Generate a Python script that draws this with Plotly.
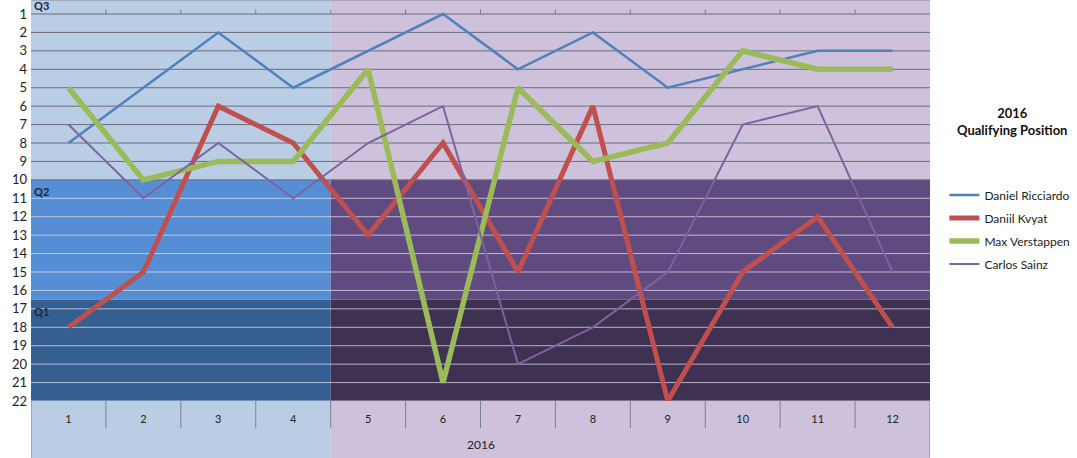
import plotly.graph_objects as go

races = [1, 2, 3, 4, 5, 6, 7, 8, 9, 10, 11, 12]
year_label = "2016"
ricciardo = [8, 5, 2, 5, 3, 1, 4, 2, 5, 4, 3, 3]
kvyat = [18, 15, 6, 8, 13, 8, 15, 6, 22, 15, 12, 18]
verstappen = [5, 10, 9, 9, 4, 21, 5, 9, 8, 3, 4, 4]
sainz = [7, 11, 8, 11, 8, 6, 20, 18, 15, 7, 6, 15]
positions = list(range(1, 23))
session_labels = ["Q3", "Q2", "Q1"]

FONT = "Lato"
Y_TOP = 0.24
Y_BOT = 22
Q2_START = 10
Q1_START = 16.5
SPLIT = 4.5  # boundary between blue (races 1-4) and purple (5-12) sections
X0, X1 = 0.5, 12.5
AXIS_BAND = -0.142  # paper y of bottom of category area

fig = go.Figure()

series = [
    ("Daniel Ricciardo", ricciardo, "#4f81bd", 2.5),
    ("Daniil Kvyat", kvyat, "#c0504d", 5),
    ("Max Verstappen", verstappen, "#9bbb59", 5.5),
    ("Carlos Sainz", sainz, "#7d63a0", 2),
]
for i, (name, vals, col, w) in enumerate(series):
    fig.add_trace(go.Scatter(
        x=races, y=vals, mode="lines", name=name,
        line=dict(color=col, width=w), legendgroup=str(i),
    ))

shapes = []
bands = [
    (Y_TOP, Q2_START, "#b9cde5", "#cdc1db"),
    (Q2_START, Q1_START, "#558ed5", "#604b80"),
    (Q1_START, Y_BOT, "#365f91", "#3e3152"),
]
for y0, y1, cl, cr in bands:
    shapes.append(dict(type="rect", xref="x", yref="y", x0=X0, x1=SPLIT, y0=y0, y1=y1,
                       fillcolor=cl, line_width=0, layer="below"))
    shapes.append(dict(type="rect", xref="x", yref="y", x0=SPLIT, x1=X1, y0=y0, y1=y1,
                       fillcolor=cr, line_width=0, layer="below"))
shapes.append(dict(type="rect", xref="x", yref="paper", x0=X0, x1=SPLIT, y0=AXIS_BAND, y1=0,
                   fillcolor="#b9cde5", line_width=0, layer="below"))
shapes.append(dict(type="rect", xref="x", yref="paper", x0=SPLIT, x1=X1, y0=AXIS_BAND, y1=0,
                   fillcolor="#cdc1db", line_width=0, layer="below"))
for p in positions:
    col = "#6e6b80" if p <= Q2_START else "rgba(225,220,240,0.75)"
    shapes.append(dict(type="line", xref="x", yref="y", x0=X0, x1=X1, y0=p, y1=p,
                       line=dict(color=col, width=1), layer="below"))
for k in range(len(races) + 1):
    xb = X0 + k
    if k == 0 or k == len(races):
        shapes.append(dict(type="line", xref="x", yref="paper", x0=xb, x1=xb, y0=AXIS_BAND, y1=0,
                           line=dict(color="#7f7f8f", width=1)))
    else:
        shapes.append(dict(type="line", xref="x", yref="paper", x0=xb, x1=xb, y0=-0.068, y1=0,
                           line=dict(color="#7f7f8f", width=1)))
        shapes.append(dict(type="line", xref="x", yref="y", x0=xb, x1=xb, y0=1, y1=0.75,
                           line=dict(color="#7f7f8f", width=1)))
shapes.append(dict(type="line", xref="x", yref="paper", x0=X0, x1=X1, y0=1, y1=1,
                   line=dict(color="#8a8a9a", width=1)))

annotations = []
for lab, yv in zip(session_labels, [0.55, 10.65, 17.15]):
    annotations.append(dict(x=X0, y=yv, xref="x", yref="y", text="<b>" + lab + "</b>",
                            showarrow=False, xanchor="left", xshift=1,
                            font=dict(family=FONT, size=11, color="#1a2440")))
annotations.append(dict(x=(X0 + X1) / 2, y=-0.132, xref="x", yref="paper",
                        text=year_label, showarrow=False,
                        font=dict(family=FONT, size=12, color="#222")))
annotations.append(dict(x=1.091, y=0.742, xref="paper", yref="paper", xanchor="center",
                        text="<b>2016<br>Qualifying Position</b>", showarrow=False,
                        font=dict(family=FONT, size=13, color="#111")))

fig.update_layout(
    width=1077, height=458,
    margin=dict(l=31, r=147, t=0, b=57),
    paper_bgcolor="white", plot_bgcolor="white",
    shapes=shapes, annotations=annotations,
    showlegend=True,
    legend=dict(x=1.016, y=0.55, xanchor="left", yanchor="top",
                font=dict(family=FONT, size=12, color="#222"),
                tracegroupgap=4, itemwidth=30, bgcolor="rgba(0,0,0,0)"),
    xaxis=dict(range=[X0, X1], tickvals=races, ticktext=[str(r) for r in races],
               showgrid=False, zeroline=False, showline=False, ticks="",
               ticklabelstandoff=10,
               tickfont=dict(family=FONT, size=11, color="#222")),
    yaxis=dict(range=[Y_BOT, Y_TOP], tickvals=positions, ticktext=[str(p) for p in positions],
               showgrid=False, zeroline=False, showline=False, ticks="",
               ticklabelstandoff=3,
               tickfont=dict(family=FONT, size=13, color="#222")),
)

fig.write_html("out.html", config={"displayModeBar": False},
               post_script="document.body.style.margin='0';")
